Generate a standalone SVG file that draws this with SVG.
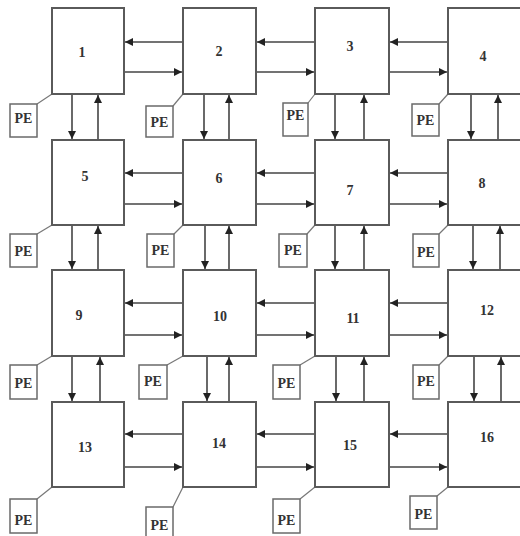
<svg xmlns="http://www.w3.org/2000/svg" width="520" height="536" viewBox="0 0 520 536">
<style>
.box{fill:#fff;stroke:#5a5a5a;stroke-width:2}
.pe{fill:#fff;stroke:#6a6a6a;stroke-width:1.5}
.lbl{font-family:"Liberation Serif",serif;font-size:14px;font-weight:bold;fill:#333;text-anchor:middle}
.pet{font-family:"Liberation Serif",serif;font-size:14px;font-weight:bold;fill:#333;text-anchor:middle}
.c{stroke:#444;stroke-width:1.6;fill:none;marker-end:url(#ah)}
.pl{stroke:#777;stroke-width:1.2;fill:none}
</style>
<defs>
<marker id="ah" viewBox="0 0 10 10" refX="10" refY="5" markerWidth="6" markerHeight="5" orient="auto" markerUnits="strokeWidth">
<path d="M0,0 L10,5 L0,10 z" fill="#222"/>
</marker>
</defs>
<rect width="520" height="536" fill="#fff"/>
<g id="connectors">
<!-- row 1 horizontal -->
<path class="c" d="M183,42 H125"/><path class="c" d="M124,72 H182"/>
<path class="c" d="M315,42 H257"/><path class="c" d="M256,72 H314"/>
<path class="c" d="M448,42 H390"/><path class="c" d="M389,72 H447"/>
<!-- row 2 -->
<path class="c" d="M183,173 H125"/><path class="c" d="M124,204 H182"/>
<path class="c" d="M315,173 H257"/><path class="c" d="M256,204 H314"/>
<path class="c" d="M448,173 H390"/><path class="c" d="M389,204 H447"/>
<!-- row 3 -->
<path class="c" d="M183,303 H125"/><path class="c" d="M124,335 H182"/>
<path class="c" d="M315,303 H257"/><path class="c" d="M256,335 H314"/>
<path class="c" d="M448,303 H390"/><path class="c" d="M389,335 H447"/>
<!-- row 4 -->
<path class="c" d="M183,434 H125"/><path class="c" d="M124,467 H182"/>
<path class="c" d="M315,434 H257"/><path class="c" d="M256,467 H314"/>
<path class="c" d="M448,434 H390"/><path class="c" d="M389,467 H447"/>
<!-- vertical row1-2 -->
<path class="c" d="M72,94 V139"/><path class="c" d="M98,140 V95"/>
<path class="c" d="M204,94 V139"/><path class="c" d="M229,140 V95"/>
<path class="c" d="M335,94 V139"/><path class="c" d="M364,140 V95"/>
<path class="c" d="M471,94 V139"/><path class="c" d="M498,140 V95"/>
<!-- vertical row2-3 -->
<path class="c" d="M72,225 V269"/><path class="c" d="M98,270 V226"/>
<path class="c" d="M205,225 V269"/><path class="c" d="M229,270 V226"/>
<path class="c" d="M335,225 V269"/><path class="c" d="M364,270 V226"/>
<path class="c" d="M473,225 V269"/><path class="c" d="M500,270 V226"/>
<!-- vertical row3-4 -->
<path class="c" d="M72,356 V401"/><path class="c" d="M100,402 V357"/>
<path class="c" d="M207,356 V401"/><path class="c" d="M229,402 V357"/>
<path class="c" d="M336,356 V401"/><path class="c" d="M364,402 V357"/>
<path class="c" d="M474,356 V401"/><path class="c" d="M501,402 V357"/>
<!-- PE links -->
<path class="pl" d="M37,104 L52,94"/><path class="pl" d="M173,106 L183,94"/>
<path class="pl" d="M308,103 L315,94"/><path class="pl" d="M439,104 L448,94"/>
<path class="pl" d="M37,234 L52,225"/><path class="pl" d="M174,234 L183,225"/>
<path class="pl" d="M307,234 L315,225"/><path class="pl" d="M439,234 L448,225"/>
<path class="pl" d="M37,365 L52,356"/><path class="pl" d="M167,365 L183,356"/>
<path class="pl" d="M300,365 L315,356"/><path class="pl" d="M439,365 L448,356"/>
<path class="pl" d="M37,499 L52,487"/><path class="pl" d="M173,507 L183,487"/>
<path class="pl" d="M300,499 L315,487"/><path class="pl" d="M437,496 L448,487"/>
</g>
<g id="n1"><rect class="box" x="52" y="8" width="72" height="86"/><text class="lbl" x="82" y="57">1</text></g>
<g id="n2"><rect class="box" x="183" y="8" width="73" height="86"/><text class="lbl" x="219" y="56">2</text></g>
<g id="n3"><rect class="box" x="315" y="8" width="74" height="86"/><text class="lbl" x="350" y="51">3</text></g>
<g id="n4"><rect class="box" x="448" y="8" width="80" height="86"/><text class="lbl" x="483" y="61">4</text></g>
<g id="n5"><rect class="box" x="52" y="140" width="72" height="85"/><text class="lbl" x="85" y="181">5</text></g>
<g id="n6"><rect class="box" x="183" y="140" width="73" height="85"/><text class="lbl" x="219" y="183">6</text></g>
<g id="n7"><rect class="box" x="315" y="140" width="74" height="85"/><text class="lbl" x="350" y="195">7</text></g>
<g id="n8"><rect class="box" x="448" y="140" width="80" height="85"/><text class="lbl" x="482" y="188">8</text></g>
<g id="n9"><rect class="box" x="52" y="270" width="72" height="86"/><text class="lbl" x="79" y="320">9</text></g>
<g id="n10"><rect class="box" x="183" y="270" width="73" height="86"/><text class="lbl" x="220" y="321">10</text></g>
<g id="n11"><rect class="box" x="315" y="270" width="74" height="86"/><text class="lbl" x="353" y="323">11</text></g>
<g id="n12"><rect class="box" x="448" y="270" width="80" height="86"/><text class="lbl" x="487" y="315">12</text></g>
<g id="n13"><rect class="box" x="52" y="402" width="72" height="85"/><text class="lbl" x="85" y="452">13</text></g>
<g id="n14"><rect class="box" x="183" y="402" width="73" height="85"/><text class="lbl" x="219" y="448">14</text></g>
<g id="n15"><rect class="box" x="315" y="402" width="74" height="85"/><text class="lbl" x="350" y="450">15</text></g>
<g id="n16"><rect class="box" x="448" y="402" width="80" height="85"/><text class="lbl" x="487" y="442">16</text></g>
<g id="pe1"><rect class="pe" x="10" y="104" width="27" height="33"/><text class="pet" x="23.5" y="123">PE</text></g>
<g id="pe2"><rect class="pe" x="146" y="106" width="27" height="31"/><text class="pet" x="159.5" y="127">PE</text></g>
<g id="pe3"><rect class="pe" x="283" y="103" width="25" height="33"/><text class="pet" x="295.5" y="120">PE</text></g>
<g id="pe4"><rect class="pe" x="412" y="104" width="27" height="32"/><text class="pet" x="425.5" y="125">PE</text></g>
<g id="pe5"><rect class="pe" x="10" y="234" width="27" height="33"/><text class="pet" x="23.5" y="256">PE</text></g>
<g id="pe6"><rect class="pe" x="147" y="234" width="27" height="33"/><text class="pet" x="160.5" y="255">PE</text></g>
<g id="pe7"><rect class="pe" x="279" y="234" width="28" height="33"/><text class="pet" x="293" y="255">PE</text></g>
<g id="pe8"><rect class="pe" x="413" y="234" width="26" height="33"/><text class="pet" x="426" y="257">PE</text></g>
<g id="pe9"><rect class="pe" x="10" y="365" width="27" height="34"/><text class="pet" x="23.5" y="388">PE</text></g>
<g id="pe10"><rect class="pe" x="139" y="365" width="28" height="34"/><text class="pet" x="153" y="386">PE</text></g>
<g id="pe11"><rect class="pe" x="273" y="365" width="27" height="34"/><text class="pet" x="286.5" y="388">PE</text></g>
<g id="pe12"><rect class="pe" x="413" y="365" width="26" height="34"/><text class="pet" x="426" y="386">PE</text></g>
<g id="pe13"><rect class="pe" x="10" y="499" width="27" height="34"/><text class="pet" x="23.5" y="525">PE</text></g>
<g id="pe14"><rect class="pe" x="146" y="507" width="27" height="30"/><text class="pet" x="159.5" y="530">PE</text></g>
<g id="pe15"><rect class="pe" x="273" y="499" width="27" height="34"/><text class="pet" x="286.5" y="525">PE</text></g>
<g id="pe16"><rect class="pe" x="410" y="496" width="27" height="33"/><text class="pet" x="423.5" y="519">PE</text></g>
</svg>
